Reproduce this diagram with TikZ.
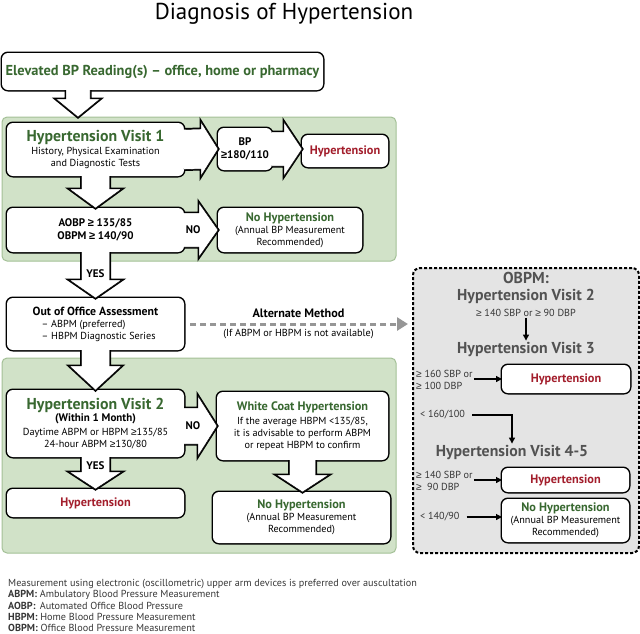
\documentclass[tikz,border=0pt]{standalone}
\usepackage{fontspec}
\setmainfont{PT Sans}
\newfontfamily\signfont{Liberation Sans}
\usetikzlibrary{
  positioning,
  calc,
  arrows.meta}
\definecolor{panelcolor}{RGB}{209,226,200}
\definecolor{panelframecolor}{RGB}{163,192,150}
\definecolor{headcolor}{RGB}{56,104,48}
\definecolor{hypcolor}{RGB}{163,30,44}
\definecolor{obpmcolor}{RGB}{228,228,228}
\definecolor{obpmtextcolor}{RGB}{82,82,82}
\definecolor{altcolor}{RGB}{150,150,150}
\definecolor{notecolor}{RGB}{55,55,55}

%% font sizes (1pt is one pixel of the figure)
\newcommand{\titlesize}{\fontsize{23}{27}\selectfont}
\newcommand{\elevsize}{\fontsize{14.4}{17}\selectfont\bfseries}
\newcommand{\visitsize}{\fontsize{15.8}{17}\selectfont\bfseries}
\newcommand{\labelsize}{\fontsize{12.3}{14}\selectfont\bfseries}
\newcommand{\bodysize}{\fontsize{10.2}{12}\selectfont}
\newcommand{\boldsize}{\fontsize{11}{13.5}\selectfont\bfseries}
\newcommand{\notesize}{\fontsize{10.2}{11.3}\selectfont}
\newcommand{\geqsign}{{\signfont ≥}}

%% block arrows: #1 start, #2 tip, #3 stem half width, #4 head half width,
%% #5 head length
\newcommand{\downblock}[5]{%
  \draw [blockarrow] ($#1+(-#3,0)$) -- ($#2+(-#3,-#5)$) --
  ($#2+(-#4,-#5)$) -- #2 -- ($#2+(#4,-#5)$) -- ($#2+(#3,-#5)$) --
  ($#1+(#3,0)$);}
\newcommand{\rightblock}[5]{%
  \draw [blockarrow] ($#1+(0,-#3)$) -- ($#2+(-#5,-#3)$) --
  ($#2+(-#5,-#4)$) -- #2 -- ($#2+(-#5,#4)$) -- ($#2+(-#5,#3)$) --
  ($#1+(0,#3)$);}

\tikzset{
  %% panel : green background of a visit
  panel/.style={
    rectangle,
    rounded corners=5pt,
    fill=panelcolor,
    draw=panelframecolor,
    line width=1pt,
    inner sep=0pt,
    outer sep=0pt
  },
  %% obpmpanel : the alternate (office) method
  obpmpanel/.style={
    rectangle,
    rounded corners=7pt,
    fill=obpmcolor,
    draw=black,
    line width=2pt,
    dash pattern=on 3pt off 2pt,
    inner sep=0pt,
    outer sep=0pt
  },
  %% box : a white box, the outline lies under the fill
  box/.style={
    rectangle,
    rounded corners=6pt,
    fill=white,
    preaction={draw, line width=3pt},
    inner sep=1pt,
    outer sep=0pt,
    align=center,
    font=\bodysize
  },
  %% blockarrow : big hollow arrow, merges with the boxes
  blockarrow/.style={
    fill=white,
    preaction={draw, line width=3pt, line join=miter}
  },
  smallbold/.style={font=\boldsize, inner sep=0pt},
  obpmhead/.style={font=\visitsize, text=obpmtextcolor, inner sep=1pt},
  cond/.style={font=\bodysize, text=notecolor, inner sep=1pt, align=left},
  thinarrow/.style={line width=1.2pt, -{Triangle[length=6pt, width=6pt]}},
  altarrow/.style={altcolor, line width=3pt, dash pattern=on 6pt off 4pt,
    -{Triangle[length=11pt, width=13pt]}, shorten >=5pt}
}

\begin{document}
\begin{tikzpicture}
  [x=1pt,
  y=-1pt,
  align=center]

  \useasboundingbox (0,0) rectangle (640,633);

  \node (title) [font=\titlesize] at (284,14) {Diagnosis of Hypertension};

  %% Panels
  \node (p1) [panel, minimum width=394pt, minimum height=144pt] at (199,189) {};
  \node (p2) [panel, minimum width=394pt, minimum height=195pt] at (199,455.5) {};
  \node (p3) [obpmpanel, minimum width=226pt, minimum height=285pt] at (526,410.5) {};

  %% Main workflow
  \node (elev) [box, minimum width=321pt, minimum height=37pt] at (162.5,71.5) {%
    \elevsize\color{headcolor}Elevated BP Reading(s) – office, home or pharmacy};

  \node (v1) [box, minimum width=177pt, minimum height=53pt] at (95.5,149.5) {%
    {\visitsize\color{headcolor}Hypertension Visit 1}\\[1pt]
    History, Physical Examination\\
    and Diagnostic Tests};

  \node (bp) [box, minimum width=54pt, minimum height=42pt, font=\boldsize]
  at (245,149) {BP\\\geqsign180/110};

  \node (hyp1) [box, minimum width=86pt, minimum height=32pt, font=\labelsize,
  text=hypcolor] at (345,151) {Hypertension};

  \node (aobp) [box, minimum width=177pt, minimum height=44pt, font=\boldsize]
  at (95.5,230) {AOBP \geqsign\ 135/85\\OBPM \geqsign\ 140/90};

  \node (nohyp1) [box, minimum width=144pt, minimum height=44pt] at (290,230) {%
    {\labelsize\color{headcolor}No Hypertension}\\
    (Annual BP Measurement\\
    Recommended)};

  \node (ooa) [box, minimum width=177pt, minimum height=52pt, align=left]
  at (95.5,324) {%
    {\fontsize{11.8}{14}\selectfont\bfseries Out of Office Assessment}\\
    \hspace*{9pt}– ABPM (preferred)\\
    \hspace*{9pt}– HBPM Diagnostic Series};

  \node (v2) [box, minimum width=177pt, minimum height=67pt] at (95.5,423.5) {%
    {\visitsize\color{headcolor}Hypertension Visit 2}\\
    {\boldsize(Within 1 Month)}\\[2pt]
    Daytime ABPM or HBPM \geqsign135/85\\
    24-hour ABPM \geqsign130/80};

  \node (wch) [box, minimum width=171pt, minimum height=68pt] at (302.5,426) {%
    {\labelsize\color{headcolor}White Coat Hypertension}\\[2pt]
    If the average HBPM <135/85,\\
    it is advisable to perform ABPM\\
    or repeat HBPM to confirm};

  \node (hyp2) [box, minimum width=177pt, minimum height=28pt, font=\labelsize,
  text=hypcolor] at (95.5,503) {Hypertension};

  \node (nohyp2) [box, minimum width=177pt, minimum height=51pt] at (301.5,517.5) {%
    {\labelsize\color{headcolor}No Hypertension}\\
    (Annual BP Measurement\\
    Recommended)};

  %% Block arrows
  \coordinate (elevout) at ($(elev.south west)+(76,0)$);
  \downblock{(elevout)}{(p1.north -| elevout)}{12}{22}{18}
  \rightblock{(v1.east)}{(bp.west)}{20}{27}{17}
  \rightblock{(bp.east)}{(hyp1.west |- bp.east)}{17}{27}{18}
  \downblock{(v1.south)}{(aobp.north)}{14}{26}{19}
  \rightblock{(aobp.east)}{(nohyp1.west)}{17}{27}{19}
  \downblock{(aobp.south)}{(ooa.north)}{14}{26}{18}
  \downblock{(ooa.south)}{(v2.north)}{14}{26}{24}
  \rightblock{(v2.east |- wch.west)}{(wch.west)}{18}{30}{19}
  \downblock{(v2.south)}{(hyp2.north)}{14}{26}{17}
  \downblock{(wch.south)}{(wch.south |- nohyp2.north)}{13}{26}{17}

  \node (no1) [smallbold] at ($(aobp.east)!0.27!(nohyp1.west)$) {NO};
  \node (no2) [smallbold] at ($(v2.east |- wch.west)!0.27!(wch.west)$) {NO};
  \node (yes1) [smallbold] at ($(aobp.south)!0.47!(ooa.north)$) {YES};
  \node (yes2) [smallbold] at ($(v2.south)!0.28!(hyp2.north)$) {YES};

  %% Alternate method
  \draw [altarrow] ([xshift=6pt]ooa.east) -- (ooa.east -| p3.west);
  \coordinate (altmid) at ($(ooa.east)!0.5!(ooa.east -| p3.west)$);
  \node (althead) [above=3pt of altmid, font=\fontsize{12.2}{14}\selectfont\bfseries]
  {Alternate Method};
  \node (altnote) [below=2pt of altmid, font=\bodysize] {(If ABPM or HBPM is not available)};

  %% OBPM visits
  \node (ov2) [obpmhead] at (526,287.5) {OBPM:\\Hypertension Visit 2};
  \node (ov2cond) [cond] at (526,313) {\geqsign\ 140 SBP or \geqsign\ 90 DBP};
  \node (ov3) [obpmhead] at (526,349) {Hypertension Visit 3};
  \draw [thinarrow] (ov2cond) -- (ov3);

  \node (hyp3) [box, minimum width=128pt, minimum height=28pt, font=\labelsize,
  text=hypcolor] at (566,379) {Hypertension};
  \node (ge160) [cond, anchor=west] at (415,380) {\geqsign\ 160 SBP or\\\geqsign\ 100 DBP};
  \draw [thinarrow] (ge160.east |- hyp3.west) -- (hyp3.west);

  \node (ov45) [obpmhead] at (512,452) {Hypertension Visit 4-5};
  \node (lt160) [cond, anchor=west] at (419,415) {< 160/100};
  \draw [thinarrow] ([xshift=6pt]lt160.east) -| (ov45.north);

  \node (hyp4) [box, minimum width=127pt, minimum height=24pt, font=\labelsize,
  text=hypcolor] at (565.5,480) {Hypertension};
  \node (ge140) [cond, anchor=west] at (415,481) {\geqsign\ 140 SBP or\\\geqsign\ \ 90 DBP};
  \draw [thinarrow] (ge140.east |- hyp4.west) -- (hyp4.west);

  \node (nohyp3) [box, minimum width=127pt, minimum height=43pt] at (565.5,520.5) {%
    {\labelsize\color{headcolor}No Hypertension}\\
    (Annual BP Measurement\\
    Recommended)};
  \node (lt140) [cond, anchor=west] at (419,517) {< 140/90};
  \draw [thinarrow] ([xshift=6pt]lt140.east) -- (lt140.east -| nohyp3.west);

  %% Notes
  \node (notes) [font=\notesize, text=notecolor, align=left, anchor=north west,
  inner sep=0pt] at (8,579) {%
    Measurement using electronic (oscillometric) upper arm devices is preferred over auscultation\\
    \textbf{ABPM:} Ambulatory Blood Pressure Measurement\\
    \textbf{AOBP:}\ \,Automated Office Blood Pressure\\
    \textbf{HBPM:} Home Blood Pressure Measurement\\
    \textbf{OBPM:} Office Blood Pressure Measurement};

\end{tikzpicture}
\end{document}
